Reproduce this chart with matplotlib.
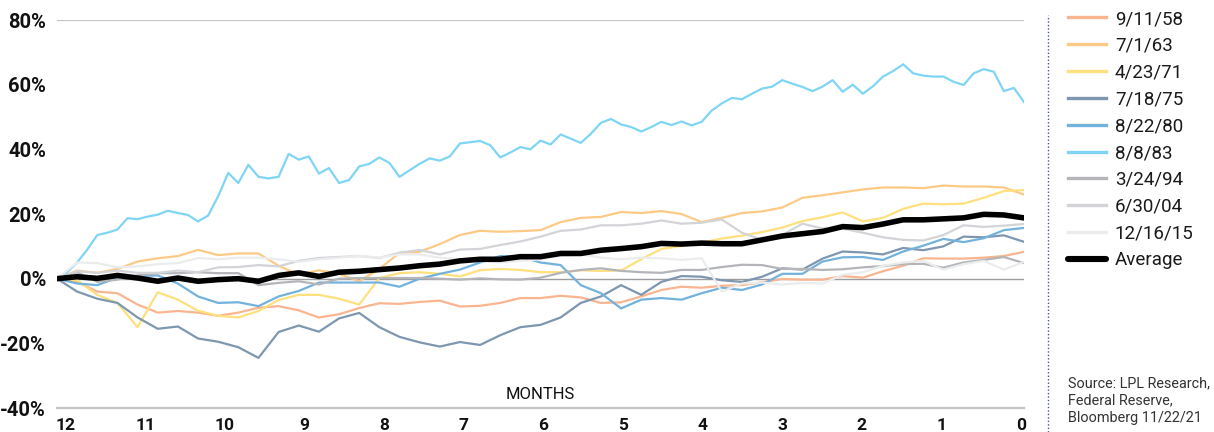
import numpy as np
import matplotlib
matplotlib.use("Agg")
import matplotlib.pyplot as plt
from matplotlib.lines import Line2D

# cumulative S&P 500 return (%) in the 12 months before a first rate hike
labels = ["9/11/58", "7/1/63", "4/23/71", "7/18/75", "8/22/80", "8/8/83",
          "3/24/94", "6/30/04", "12/16/15", "Average"]
colors = ["#f9b58f", "#fdca86", "#fee07d", "#7e97b0", "#72b2dc", "#7fd5f4",
          "#b3b5b9", "#d3d4d8", "#ebeced", "#000000"]

s_1958 = [0, -1, -4, -4.5, -8, -10.5, -10, -10.5, -11.5, -10.5, -9, -8.5, -9.8,
          -12, -11, -9.1, -7.6, -7.8, -7.2, -6.8, -8.6, -8.4, -7.5, -6, -6, -5.3,
          -5.8, -7.5, -7.3, -5.5, -3.5, -2.5, -2.8, -2.2, -2, -1.1, -0.1, -0.3,
          -0.3, 0.8, 0.3, 2.3, 4, 6.3, 6.2, 6.2, 6.5, 7, 8.3]
s_1963 = [0, 2.5, 1.8, 3, 5.3, 6.3, 7, 8.9, 7.3, 7.8, 7.8, 4, 1.2, 2.6, 1.5, -0.8,
          3, 8, 8.3, 10.7, 13.5, 14.8, 14.5, 14.7, 15, 17.5, 18.8, 19.1, 20.6,
          20.3, 20.9, 20, 17.5, 18.8, 20.3, 20.8, 22, 25, 25.8, 26.7, 27.6, 28.2,
          28.2, 28, 28.8, 28.5, 28.5, 28.2, 26]
s_1971 = [0, -0.5, -5, -7.5, -15, -4.2, -6.5, -9.9, -11.5, -12, -10, -6.6, -5,
          -5, -6.2, -8, 0.2, 1.7, 2, 1.5, 0.7, 2.6, 3, 2.7, 2, 2, 2.6, 2.4, 2.5,
          6, 9.2, 10.1, 11.1, 12.4, 13.3, 14.4, 15.8, 17.8, 19, 20.5, 17.7, 18.8,
          21.6, 23.2, 23, 23.2, 25, 27.1, 27.4]
s_1975 = [0, -4, -6.2, -7.5, -12, -15.5, -14.8, -18.5, -19.5, -21.2, -24.5,
          -16.5, -14.5, -16.4, -12.3, -10.6, -15, -18, -19.7, -21, -19.6, -20.5,
          -17.5, -15, -14.3, -12, -7.5, -5.5, -2, -5, -1, 0.8, 0.6, -0.5, -1, 0.6,
          3.2, 2.8, 6.2, 8.4, 8.1, 7.5, 9.5, 8.8, 10, 13, 12.8, 13.4, 11.4]
s_1980 = [0, -1.5, -2, 0.3, 0.8, 1, -1.5, -5.5, -7.5, -7.3, -8.5, -5.5, -3.8,
          -1.2, -1.2, -1.2, -1.2, -2.5, 0, 1.5, 2.8, 5, 7, 6.8, 5, 4.2, -2, -4.5,
          -9.2, -6.5, -6, -6.5, -4.5, -2.8, -3.5, -1.8, 1.5, 1.5, 5.3, 6.6, 6.7,
          5.8, 8.4, 10.2, 12.3, 11.3, 12.5, 15, 15.7]
s_1983 = [0, 2, 5, 9, 13.5, 14.2, 15.2, 18.7, 18.4, 19.2, 19.8, 21, 20.3, 19.7,
          17.7, 19.5, 25.5, 32.7, 29.6, 35.2, 31.5, 31, 31.5, 38.6, 36.8, 37.8,
          32.5, 34.2, 29.6, 30.5, 34.7, 35.5, 37.5, 35.8, 31.5, 33.5, 35.5, 37.2,
          36.5, 37.8, 41.8, 42.2, 42.6, 41.3, 37.5, 39, 40.7, 40, 42.7, 41.5,
          44.6, 43.3, 42, 44.8, 48.2, 49.4, 47.7, 46.9, 45.5, 46.9, 48.5, 47.5,
          48.6, 47.4, 48.5, 52, 54.2, 55.9, 55.5, 57.2, 58.8, 59.4, 61.4, 60.3,
          59.3, 58, 59.4, 61.4, 57.8, 60, 57.2, 59.5, 62.5, 64.2, 66.3, 63.5,
          62.8, 62.5, 62.5, 60.9, 59.9, 63.5, 64.8, 64, 58, 59, 54.6]
s_1994 = [0, 2, -1, -0.3, 1, 1.7, 1.7, 2, 1.7, 1.7, -2, -1.3, -0.8, -1.8, 0, 0.2,
          0.2, 0.2, 0.2, 0, -0.3, 0.1, -0.2, -0.3, 0.3, 1.8, 2.7, 3.2, 2.4, 2,
          1.8, 2.7, 2.7, 3.6, 4.3, 4.2, 3, 3, 2.7, 2.9, 3.5, 3.9, 4.5, 4.6, 3.4,
          5, 5.8, 6.7, 4.8]
s_2004 = [0, 2.3, 1.8, 2.5, 1.8, 1.8, 2.5, 2, 3.5, 3.6, 4.2, 3.8, 5.5, 6.4, 6.7,
          7, 6.4, 8, 8.9, 7.5, 9, 9.2, 10.4, 11.5, 13, 14.8, 15.2, 16.5, 16.5,
          17, 18, 17, 17.3, 18.3, 14.2, 12, 13.5, 17, 15.5, 15.5, 14.2, 12.8, 12,
          11.8, 13.5, 16.5, 16, 16.4, 16.9]
s_2015 = [0, 5, 4.8, 3.5, 3.8, 4.5, 4.8, 6.4, 6, 6.5, 6.5, 6, 5.2, 6, 6.5, 7,
          6.5, 7.5, 7.5, 6.5, 6, 5.5, 5, 5.5, 6, 7, 7.5, 6.5, 6, 6.5, 6.3, 5.8,
          6.3, -4, -1.5, -1.2, -1.8, -1.3, -1.5, 1.2, 2, 4, 5, 5.5, 2.8, 4.5, 5.5,
          2.8, 5.2]
average = [0, 0.6, 0.1, 1, 0.2, -0.8, 0.2, -0.8, -0.3, 0, -0.8, 1, 1.8, 0.7, 2,
           2.3, 2.8, 3.3, 4, 4.5, 5.5, 6, 6, 6.8, 6.8, 7.8, 7.8, 8.8, 9.3, 9.9,
           10.9, 10.7, 11, 10.8, 10.8, 12, 13.2, 13.9, 14.6, 16.1, 15.8, 16.9,
           18.2, 18.2, 18.5, 18.8, 19.9, 19.7, 18.8]

series = [s_1958, s_1963, s_1971, s_1975, s_1980, s_1983, s_1994, s_2004,
          s_2015, average]

month_ticks = list(range(12, -1, -1))
y_ticks = [80, 60, 40, 20, 0, -20, -40]
start, end = 12.11, -0.04   # months before hike at first / last observation

plt.rcParams.update({
    'font.family': ['Roboto', 'DejaVu Sans'],
})

fig = plt.figure(figsize=(12.14, 4.32), dpi=100)
ax = fig.add_axes([57 / 1214, 24 / 432, 967 / 1214, 388 / 432])

for vals, lab, col in zip(series, labels, colors):
    x = np.linspace(start, end, len(vals))
    if lab == "Average":
        ax.plot(x, vals, color=col, lw=4.0, label=lab, zorder=5,
                solid_capstyle='round')
    else:
        ax.plot(x, vals, color=col, lw=1.6, label=lab, zorder=3)

ax.axhline(0, color='#9a9ca0', lw=1.0, zorder=2)
ax.axhline(80, color='#c3c5c9', lw=1.6, zorder=1)

ax.set_xlim(start, end)
ax.set_ylim(-40, 80)
ax.set_yticks(y_ticks)
ax.set_yticklabels([f"{v}%" for v in y_ticks])
ax.set_xticks(month_ticks)
ax.set_xticklabels([str(m) for m in month_ticks])

for side in ['top', 'right', 'left']:
    ax.spines[side].set_visible(False)
ax.spines['bottom'].set_color('#c3c5c9')
ax.spines['bottom'].set_linewidth(1.6)
ax.tick_params(axis='y', length=0, pad=8, labelsize=14.5, labelcolor='#111111')
ax.tick_params(axis='x', length=0, pad=7, labelsize=12.5, labelcolor='#111111')
for t in ax.get_yticklabels() + ax.get_xticklabels():
    t.set_fontweight('bold')

ax.text(0.5, 0.015, "MONTHS", transform=ax.transAxes, ha='center', va='bottom',
        fontsize=12, color='#111111')

# legend on the right
leg = fig.legend(loc='upper left', bbox_to_anchor=(1068 / 1214, 1 - 10 / 432),
                 frameon=False, fontsize=13.5, handlelength=2.0, handletextpad=0.5,
                 labelspacing=0.47, borderpad=0, borderaxespad=0)
for line, lab in zip(leg.get_lines(), labels):
    line.set_linewidth(4.4 if lab == "Average" else 2.4)
for t in leg.get_texts():
    t.set_color('#1a1a1a')

fig.add_artist(Line2D([1048 / 1214, 1048 / 1214], [0, 1 - 15 / 432],
                      transform=fig.transFigure, color='#4b5a78', lw=1.0,
                      linestyle=(0, (1, 1.5))))

fig.text(1068 / 1214, 1 - 376 / 432,
         "Source: LPL Research,\nFederal Reserve,\nBloomberg 11/22/21",
         ha='left', va='top', fontsize=10.4, color='#333333', linespacing=1.3)

fig.savefig("out.png", dpi=100)
